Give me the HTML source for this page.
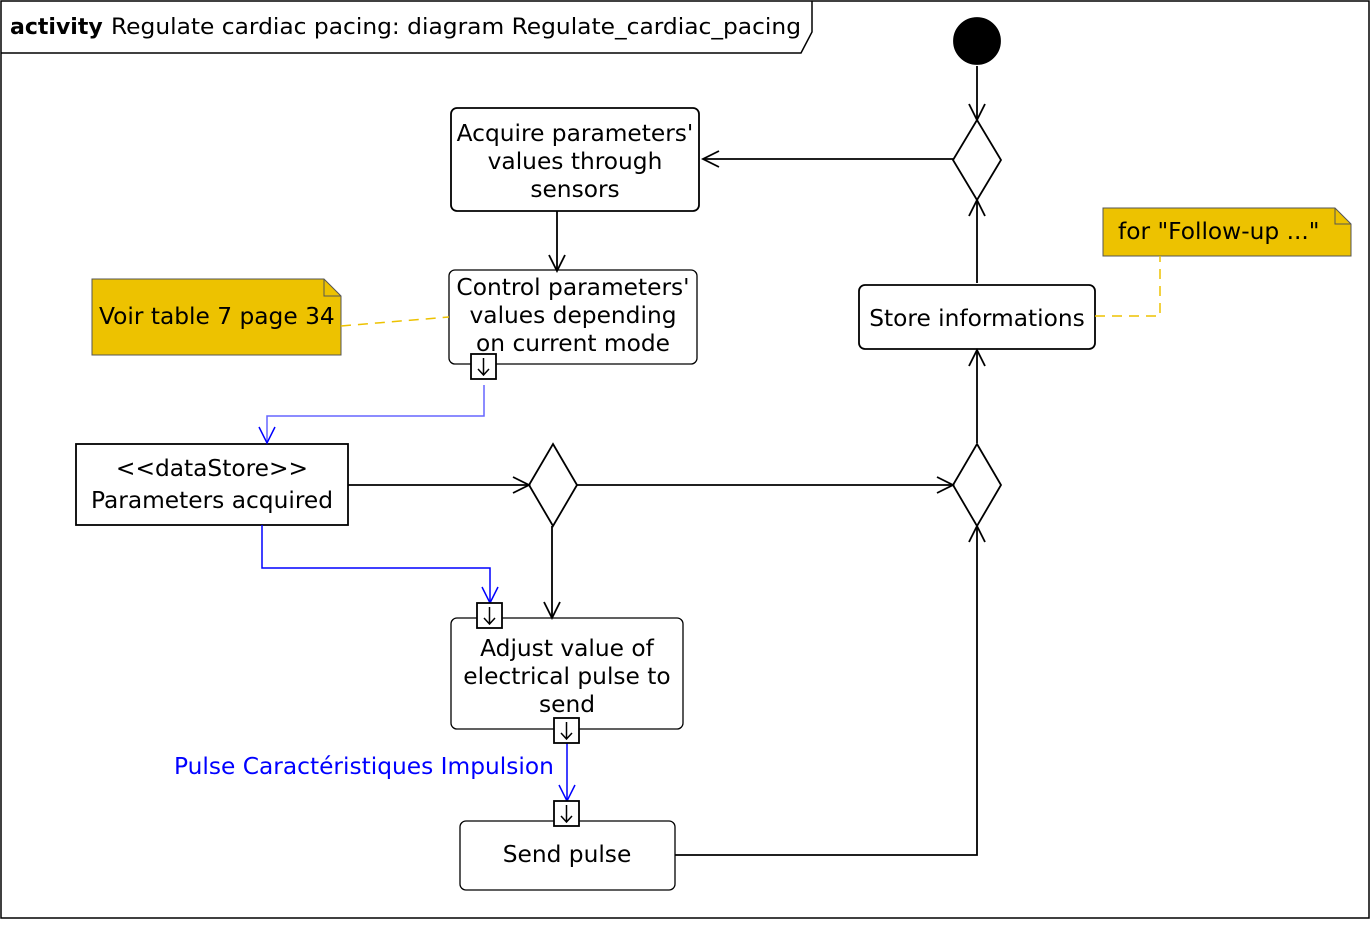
<html><head><style>body{margin:0;background:#fff}</style></head><body>
<svg width="1370" height="933" xmlns="http://www.w3.org/2000/svg" font-family="DejaVu Sans, sans-serif" font-size="23.3">
<rect width="1370" height="933" fill="#fff"/>
<rect x="1" y="1" width="1368" height="917" fill="none" stroke="#000" stroke-width="1.5"/>
<path d="M1 53 H801 L812 32 V1" fill="none" stroke="#000" stroke-width="1.5"/>
<text x="10" y="34" font-weight="bold" font-size="22">activity</text>
<text x="111" y="34" font-size="22" textLength="690" lengthAdjust="spacingAndGlyphs">Regulate cardiac pacing: diagram Regulate_cardiac_pacing</text>
<g fill="none" stroke="#000" stroke-width="1.8">
<circle cx="977" cy="41" r="23" fill="#000"/>
<line x1="977" y1="66" x2="977" y2="120"/><path d="M969 104 L977 120 L985 104"/>
<polygon points="977,120 1001,160 977,200 953,160" fill="#fff"/>
<line x1="953" y1="159" x2="703" y2="159"/><path d="M719 151 L703 159 L719 167"/>
<line x1="977" y1="283" x2="977" y2="200"/><path d="M969 216 L977 200 L985 216"/>
<rect x="451" y="108" width="248" height="103" rx="6"/>
<line x1="557" y1="211" x2="557" y2="271"/><path d="M549 255 L557 271 L565 255"/>
<rect x="449" y="270" width="248" height="94" rx="6" stroke-width="1.3"/>
<rect x="859" y="285" width="236" height="64" rx="6"/>
<line x1="977" y1="443" x2="977" y2="350"/><path d="M969 366 L977 350 L985 366"/>
<polygon points="977,444 1001,485 977,526 953,485" fill="#fff"/>
<polygon points="553,444 577,485 553,526 529,485" fill="#fff"/>
<rect x="76" y="444" width="272" height="81"/>
<line x1="348" y1="485" x2="529" y2="485"/><path d="M513 477 L529 485 L513 493"/>
<line x1="577" y1="485" x2="953" y2="485"/><path d="M937 477 L953 485 L937 493"/>
<line x1="552" y1="526" x2="552" y2="618"/><path d="M544 602 L552 618 L560 602"/>
<rect x="451" y="618" width="232" height="111" rx="6" stroke-width="1.3"/>
<rect x="460" y="821" width="215" height="69" rx="6" stroke-width="1.3"/>
<path d="M675 855 H977 V526"/><path d="M969 542 L977 526 L985 542"/>
</g>
<g fill="none" stroke="#00f" stroke-width="1.5">
<path d="M484 385 V416 H267 V443" stroke="#66f"/><path d="M259 427 L267 443 L275 427"/>
<path d="M262 525 V568 H490 V603"/><path d="M482 587 L490 603 L498 587"/>
<line x1="567" y1="743" x2="567" y2="801"/><path d="M559 785 L567 801 L575 785"/>
</g>
<g stroke="#000" stroke-width="1.8" fill="#fff">
<rect x="471" y="354" width="25" height="25"/><rect x="477" y="603" width="25" height="25"/>
<rect x="554" y="718" width="25" height="25"/><rect x="554" y="801" width="25" height="25"/>
</g>
<g stroke="#000" stroke-width="1.5" fill="none">
<path d="M483.5 358 V375 M478 369 L483.5 375 L489 369"/>
<path d="M489.5 607 V624 M484 618 L489.5 624 L495 618"/>
<path d="M566.5 722 V739 M561 733 L566.5 739 L572 733"/>
<path d="M566.5 805 V822 M561 816 L566.5 822 L572 816"/>
</g>
<path d="M92 279 H324 L341 296 V355 H92 Z" fill="#edc200" stroke="#555"/>
<path d="M324 279 V296 H341" fill="none" stroke="#555"/>
<path d="M1103 208 H1335 L1351 224 V256 H1103 Z" fill="#edc200" stroke="#555"/>
<path d="M1335 208 V224 H1351" fill="none" stroke="#555"/>
<g stroke="#edc200" stroke-width="1.5" stroke-dasharray="10,7" fill="none">
<line x1="341" y1="326" x2="449" y2="317"/>
<path d="M1095 316 H1160 V256"/>
</g>
<g text-anchor="middle">
<text x="575" y="141">Acquire parameters'</text><text x="575" y="169">values through</text><text x="575" y="197">sensors</text>
<text x="573" y="295">Control parameters'</text><text x="573" y="323">values depending</text><text x="573" y="351">on current mode</text>
<text x="977" y="326">Store informations</text>
<text x="212" y="476">&lt;&lt;dataStore&gt;&gt;</text><text x="212" y="508">Parameters acquired</text>
<text x="567" y="656">Adjust value of</text><text x="567" y="684">electrical pulse to</text><text x="567" y="712">send</text>
<text x="567" y="862">Send pulse</text>
</g>
<text x="99" y="324">Voir table 7 page 34</text>
<text x="1118" y="239">for "Follow-up ..."</text>
<text x="174" y="774" fill="#00f">Pulse Caractéristiques Impulsion</text>
</svg>
</body></html>
